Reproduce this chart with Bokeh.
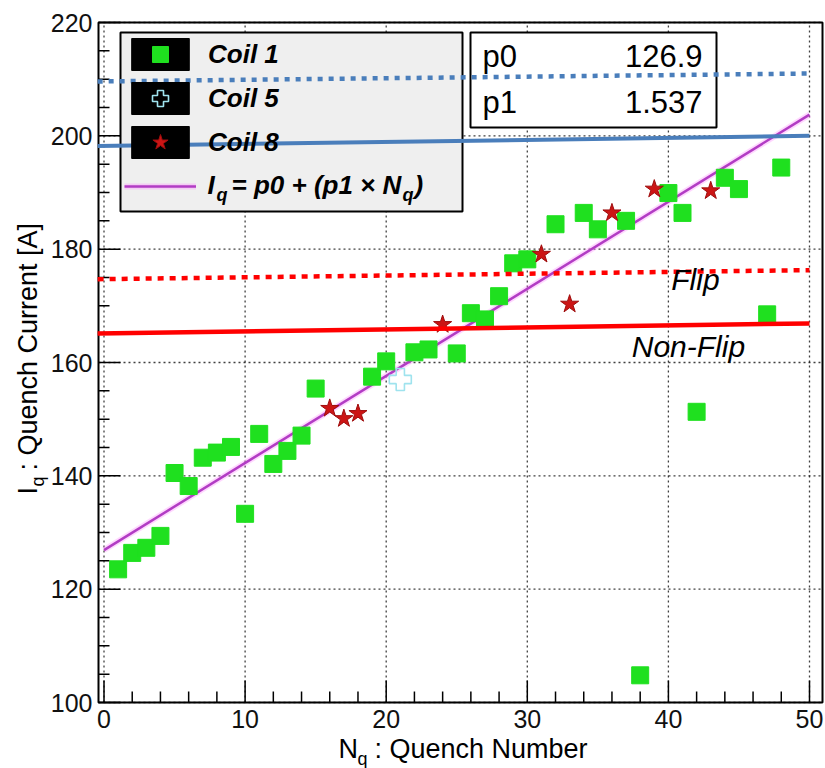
import math
from bokeh.plotting import figure
from bokeh.models import Range1d, Legend, LegendItem, Label, BoxAnnotation
from bokeh.core.properties import value
from bokeh.embed import file_html
from bokeh.resources import INLINE

# ---------------- data ----------------
coil1_n = [1, 2, 3, 4, 5, 6, 7, 8, 9, 10, 11, 12, 13, 14, 15, 19, 20, 22, 23, 25,
           26, 27, 28, 29, 30, 32, 34, 35, 37, 38, 40, 41, 42, 44, 45, 47, 48]
coil1_iq = [123.5, 126.4, 127.3, 129.4, 140.5, 138.2, 143.2, 144.1, 145.1, 133.3,
            147.4, 142.1, 144.4, 147.1, 155.4, 157.5, 160.2, 161.8, 162.3, 161.6,
            168.7, 167.6, 171.7, 177.5, 178.2, 184.4, 186.4, 183.5, 185.0, 104.8,
            189.9, 186.4, 151.3, 192.6, 190.6, 168.5, 194.4]
coil5_n = [21]
coil5_iq = [157.0]
coil8_n = [16, 17, 18, 24, 31, 33, 36, 39, 43]
coil8_iq = [151.9, 150.1, 151.0, 166.7, 179.1, 170.3, 186.4, 190.6, 190.3]

p0 = 126.9
p1 = 1.537
fit_n = [0, 50]
fit_iq = [p0 + p1 * n for n in fit_n]

# hand-drawn reference lines (slightly tilted): value at left / right end
ref_line_n = [-0.45, 50.0]
blue_dotted_iq = [209.6, 211.0]
blue_solid_iq = [198.2, 200.0]
flip_iq = [174.7, 176.3]
nonflip_iq = [165.1, 166.9]

annot_text = ["Flip", "Non-Flip"]
annot_n = [40.2, 37.4]
annot_iq = [174.7, 162.8]

x_ticks = [0, 10, 20, 30, 40, 50]
x_tick_labels = ["0", "10", "20", "30", "40", "50"]
y_ticks = [100, 120, 140, 160, 180, 200, 220]
y_tick_labels = ["100", "120", "140", "160", "180", "200", "220"]
x_minor = [t for t in range(0, 51, 2) if t % 10]
y_minor = [t for t in range(100, 221, 5) if t % 20]

stat_names = ["p0", "p1"]
stat_values = ["126.9", "1.537"]
legend_labels = ["Coil 1", "Coil 5", "Coil 8"]
swatch_anchor = [0]   # zero-size hidden quad: only supplies the legend's black swatch

# ---------------- geometry ----------------
W, H = 825, 768
PXX, PXY = 14.11, 5.6667          # pixels per unit (x, y)
X0PX, Y220PX = 103.5, 22.0        # pixel of x=0 and of y=220
XS = -X0PX / PXX
XE = XS + W / PXX
YE = 220 + Y220PX / PXY
YS = YE - H / PXY
X_LO, X_HI = (98 - X0PX) / PXX, (822 - X0PX) / PXX   # frame edges
Y_LO, Y_HI = 100, 220
MAJ_X, MIN_X = 22 / PXY, 11 / PXY  # tick lengths on the x axis (in y units)
MAJ_Y, MIN_Y = 22 / PXX, 11 / PXX  # tick lengths on the y axis (in x units)

FONT = "Liberation Sans"


def lab(text, X, Y, size, style="normal", angle=0.0, align="left",
        color="black", level="annotation"):
    # X, Y: canvas pixels (baseline point) from the top-left corner
    shift = 0.36 * size   # Label's "alphabetic" anchor sits below the true baseline
    if angle == 0:
        Y -= shift
    else:
        X -= shift
    return Label(x=X, y=H - Y, x_units="screen", y_units="screen",
                 text=text, text_font=FONT, text_font_size=f"{size}px",
                 text_font_style=style, angle=angle, text_align=align,
                 text_baseline="alphabetic", text_color=color, level=level)


p = figure(width=W, height=H, output_backend="svg", toolbar_location=None,
           x_axis_type=None, y_axis_type=None,
           x_range=Range1d(XS, XE), y_range=Range1d(YS, YE), min_border=0)
p.background_fill_color = "white"
p.border_fill_color = "white"
p.outline_line_color = None

# grid (dotted)
grid_kw = dict(line_color="black", line_width=1.3, line_dash="2 3", line_alpha=0.75,
               level="underlay")
p.segment(x0=x_ticks, y0=[Y_LO] * len(x_ticks), x1=x_ticks, y1=[Y_HI] * len(x_ticks),
          **grid_kw)
p.segment(x0=[X_LO] * len(y_ticks), y0=y_ticks, x1=[X_HI] * len(y_ticks), y1=y_ticks,
          **grid_kw)

# ticks
tick_kw = dict(line_color="black", line_width=1.5)
p.segment(x0=x_ticks, y0=[Y_LO] * len(x_ticks), x1=x_ticks,
          y1=[Y_LO + MAJ_X] * len(x_ticks), **tick_kw)
p.segment(x0=x_minor, y0=[Y_LO] * len(x_minor), x1=x_minor,
          y1=[Y_LO + MIN_X] * len(x_minor), **tick_kw)
p.segment(x0=[X_LO] * len(y_ticks), y0=y_ticks, x1=[X_LO + MAJ_Y] * len(y_ticks),
          y1=y_ticks, **tick_kw)
p.segment(x0=[X_LO] * len(y_minor), y0=y_minor, x1=[X_LO + MIN_Y] * len(y_minor),
          y1=y_minor, **tick_kw)

# tick labels
p.text(x=x_ticks, y=[Y_LO] * len(x_ticks), text=x_tick_labels, text_font=value(FONT),
       text_font_size="25px", text_color="#111111", text_align="center",
       text_baseline="top", y_offset=7)
p.text(x=[X_LO] * len(y_ticks), y=y_ticks, text=y_tick_labels, text_font=value(FONT),
       text_font_size="25px", text_color="#111111", text_align="right",
       text_baseline="middle", x_offset=-6)

# legend swatch (black background behind the legend markers), hidden in the plot
bg = p.quad(left=swatch_anchor, right=swatch_anchor, top=swatch_anchor,
            bottom=swatch_anchor, fill_color="black", line_color="black",
            visible=False)

# fit line
fit_halo = p.line(fit_n, fit_iq, line_color="#ff8cff", line_width=6, line_alpha=0.35)
fit_core = p.line(fit_n, fit_iq, line_color="#b23cc4", line_width=2.5)

# data
r1 = p.scatter(coil1_n, coil1_iq, marker="square", size=17,
               fill_color="#1fe01f", line_color="#1fe01f")
r5 = p.scatter(coil5_n, coil5_iq, marker="plus", size=22,
               fill_alpha=0, line_color="#9fe3ee", line_width=1.6)
r8 = p.scatter(coil8_n, coil8_iq, marker="star", size=19,
               fill_color="#cc1515", line_color="#9e0d0d", line_width=1)

# frame
p.add_layout(BoxAnnotation(left=X_LO, right=X_HI, bottom=Y_LO, top=Y_HI,
                           fill_alpha=0, line_color="black", line_alpha=1,
                           line_width=2))

# legend box + formula text (legend itself is transparent, drawn on top)
p.add_layout(BoxAnnotation(left=120, right=462, top=H - 32, bottom=H - 211,
                           left_units="screen", right_units="screen",
                           top_units="screen", bottom_units="screen",
                           fill_color="#efefef", fill_alpha=1,
                           line_color="black", line_alpha=1, line_width=2))
p.add_layout(lab("I", 207, 194, 26, "bold italic"))
p.add_layout(lab("q", 216, 201, 18, "bold italic"))
p.add_layout(lab("= p0 + (p1 \u00d7 N", 231, 194, 26, "bold italic"))
p.add_layout(lab("q", 402, 201, 18, "bold italic"))
p.add_layout(lab(")", 414, 194, 26, "bold italic"))

# stats box
p.add_layout(BoxAnnotation(left=470, right=716, top=H - 32, bottom=H - 127,
                           left_units="screen", right_units="screen",
                           top_units="screen", bottom_units="screen",
                           fill_color="white", fill_alpha=1,
                           line_color="black", line_alpha=1, line_width=2))
p.add_layout(lab(stat_names[0], 482, 67, 31))
p.add_layout(lab(stat_values[0], 702, 67, 31, align="right"))
p.add_layout(lab(stat_names[1], 482, 113, 31))
p.add_layout(lab(stat_values[1], 702, 113, 31, align="right"))

# axis titles (with subscripts)
p.add_layout(lab("N", 338, 758, 27))
p.add_layout(lab("q", 357, 765, 18))
p.add_layout(lab(": Quench Number", 374, 758, 27))
p.add_layout(lab("I", 37, 494, 27, angle=math.pi / 2))
p.add_layout(lab("q", 44, 486, 18, angle=math.pi / 2))
p.add_layout(lab(": Quench Current [A]", 37, 470, 27, angle=math.pi / 2))

# hand-drawn reference lines and their captions (on top)
p.line(ref_line_n, blue_dotted_iq, line_color="#4a7ebb", line_width=4.5,
       line_dash="5 6", level="overlay")
p.line(ref_line_n, blue_solid_iq, line_color="#4a7ebb", line_width=4,
       level="overlay")
p.line(ref_line_n, flip_iq, line_color="#ff0000", line_width=4.5,
       line_dash="6 6", level="overlay")
p.line(ref_line_n, nonflip_iq, line_color="#ff0000", line_width=4.5,
       level="overlay")
p.text(annot_n, annot_iq, text=annot_text, text_font=value(FONT),
       text_font_style="italic", text_font_size="30px", text_color="black",
       text_baseline="alphabetic", level="overlay")

# legend (transparent; only swatches, markers and coil labels)
items = [LegendItem(label=legend_labels[0], renderers=[bg, r1]),
         LegendItem(label=legend_labels[1], renderers=[bg, r5]),
         LegendItem(label=legend_labels[2], renderers=[bg, r8]),
         LegendItem(label=" ", renderers=[fit_halo, fit_core])]
legend = Legend(items=items, location=(124, H - 32 - 174), margin=0, padding=1,
                spacing=4, glyph_width=72, glyph_height=40, label_standoff=12,
                label_width=240, label_text_font=FONT,
                label_text_font_style="bold italic", label_text_font_size="26px",
                label_text_color="black", background_fill_alpha=0,
                border_line_color=None)
p.add_layout(legend)

open("out.html", "w").write(file_html(p, INLINE))
